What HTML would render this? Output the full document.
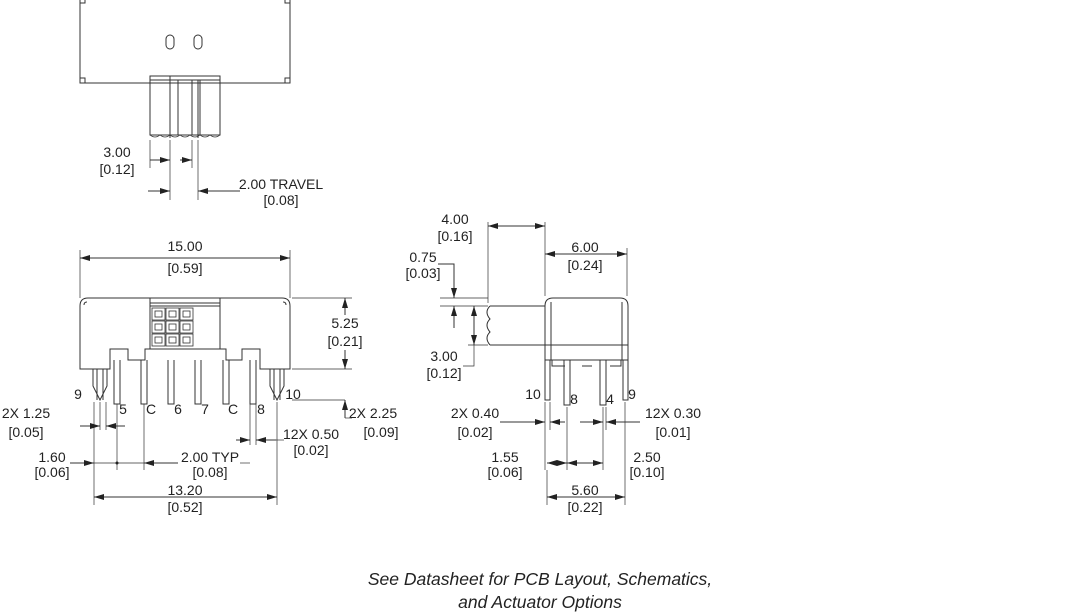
<!DOCTYPE html>
<html><head><meta charset="utf-8"><style>
html,body{margin:0;padding:0;background:#fff}
svg{display:block}
text{font-family:"Liberation Sans",sans-serif;font-size:14px;fill:#222}
.c{text-anchor:middle}
</style></head><body>
<svg width="1080" height="615" viewBox="0 0 1080 615">
<defs>
<marker id="a" viewBox="0 0 10 6" refX="10" refY="3" markerWidth="10" markerHeight="6" orient="auto-start-reverse" markerUnits="userSpaceOnUse"><path d="M0,0L10,3L0,6z" fill="#222"/></marker>
</defs>
<g stroke="#333" fill="none" stroke-width="1">
<rect x="80" y="-2" width="210" height="85"/>
<rect x="80" y="-2" width="5" height="5"/><rect x="285" y="-2" width="5" height="5"/>
<rect x="80" y="78" width="5" height="5"/><rect x="285" y="78" width="5" height="5"/>
<rect x="166" y="35" width="8" height="14" rx="4"/><rect x="194" y="35" width="8" height="14" rx="4"/>
<path d="M150,76H220V135H150Z"/>
<path d="M150,80H220M170,76V138M178,80V135M192,80V135M198,80V138M200,80V135"/>
<path d="M150,135q5,4 10,0q5,4 10,0q5,4 10,0q5,4 10,0q5,4 10,0q5,4 10,0q5,4 10,0" stroke-width="0.8"/>
<path d="M150,140V168M170,140V200M192,140V168M198,140V200" stroke-width="0.7"/>
<path d="M150,160H170" marker-end="url(#a)"/><path d="M180,160H192" marker-end="url(#a)"/>
<path d="M148,191H170" marker-end="url(#a)"/><path d="M240,191H198" marker-end="url(#a)"/>
<path d="M80,250V298M290,250V298" stroke-width="0.7"/>
<path d="M80,258H290" marker-start="url(#a)" marker-end="url(#a)"/>
<path d="M80,369V306Q80,298 88,298H282Q290,298 290,306V369H260V349H242V360H226V349H145V360H128V349H110V369Z"/>
<path d="M84,305q0,-3 3,-3M286,305q0,-3 -3,-3"/>
<path d="M150,298V349M220,298V349M150,303H220M150,306H220"/>
<g stroke-width="0.8">
<rect x="152" y="308" width="13" height="12"/><rect x="166" y="308" width="13" height="12"/><rect x="180" y="308" width="13" height="12"/>
<rect x="152" y="321" width="13" height="12"/><rect x="166" y="321" width="13" height="12"/><rect x="180" y="321" width="13" height="12"/>
<rect x="152" y="334" width="13" height="12"/><rect x="166" y="334" width="13" height="12"/><rect x="180" y="334" width="13" height="12"/>
<rect x="155" y="311" width="7" height="6"/><rect x="169" y="311" width="7" height="6"/><rect x="183" y="311" width="7" height="6"/>
<rect x="155" y="324" width="7" height="6"/><rect x="169" y="324" width="7" height="6"/><rect x="183" y="324" width="7" height="6"/>
<rect x="155" y="337" width="7" height="6"/><rect x="169" y="337" width="7" height="6"/><rect x="183" y="337" width="7" height="6"/>
</g>
<path d="M93,369V386L100,400L107,386V369M97,369V400M103,369V400"/>
<path d="M270,369V386L277,400L284,386V369M274,369V400M280,369V400"/>
<path d="M114,360V404H120V360M141,360V404H147V360M168,360V404H174V360M195,360V404H201V360M223,360V404H229V360M250,360V404H256V360"/>
<path d="M292,298H352M292,369H352M292,400H345" stroke-width="0.7"/>
<path d="M345,315V298" marker-end="url(#a)"/><path d="M345,350V369" marker-end="url(#a)"/>
<path d="M345,418V400" marker-end="url(#a)"/><path d="M345,418H352" stroke-width="0.7"/>
<path d="M94,402V505M100,402V430M106,402V430M117,404V470M144,404V470M250,404V445M256,404V445M277,402V505" stroke-width="0.7"/>
<path d="M80,426H100" marker-end="url(#a)"/><path d="M125,426H106" marker-end="url(#a)"/>
<path d="M70,463H94" marker-end="url(#a)"/><path d="M94,463H144" stroke-width="0.7"/>
<path d="M178,463H144" marker-end="url(#a)"/><path d="M236,440H250" marker-end="url(#a)"/>
<path d="M240,463H250" stroke-width="0.7"/>
<path d="M276,440H256" marker-end="url(#a)"/><path d="M276,440H284" stroke-width="0.7"/>
<path d="M94,497H277" marker-start="url(#a)" marker-end="url(#a)"/>
<path d="M545,397V306Q545,298 553,298H620Q628,298 628,306V397"/>
<path d="M551,302V360M622,302V360M545,345H628M545,360H628"/>
<path d="M552,360V366H565M582,366H592M610,366H621V360"/>
<path d="M490,306H545M490,345H545M490,306q-6,6 0,13q-6,6 0,13q-6,6 0,13"/>
<path d="M545,360V400H550V360M623,360V400H628V360M564,360V405H570V360M600,360V405H606V360"/>
<path d="M488,222V303M545,222V296M627,248V296" stroke-width="0.7"/>
<path d="M488,226H545" marker-start="url(#a)" marker-end="url(#a)"/>
<path d="M545,254H627" marker-start="url(#a)" marker-end="url(#a)"/>
<path d="M440,298H488M440,306H488M468,345H488" stroke-width="0.7"/>
<path d="M438,264H454V298" marker-end="url(#a)"/>
<path d="M454,328V306" marker-end="url(#a)"/>
<path d="M474,325V306" marker-end="url(#a)"/><path d="M474,325V345" marker-end="url(#a)"/>
<path d="M474,345V366H463" stroke-width="0.7"/>
<path d="M545,402V470M550,402V430M567,407V470M603,407V470M606,407V430M625,402V505M547,470V505" stroke-width="0.7"/>
<path d="M500,422H545" marker-end="url(#a)"/><path d="M565,422H550" marker-end="url(#a)"/>
<path d="M580,422H603" marker-end="url(#a)"/><path d="M640,422H606" marker-end="url(#a)"/>
<path d="M547,463H567" marker-start="url(#a)" marker-end="url(#a)"/>
<path d="M567,463H603" marker-start="url(#a)" marker-end="url(#a)"/>
<path d="M547,497H625" marker-start="url(#a)" marker-end="url(#a)"/>
</g>
<circle cx="117" cy="463" r="1.5" fill="#222"/>
<text x="117" y="157" class="c">3.00</text><text x="117" y="174" class="c">[0.12]</text>
<text x="281" y="189" class="c">2.00 TRAVEL</text><text x="281" y="205" class="c">[0.08]</text>
<text x="185" y="251" class="c">15.00</text><text x="185" y="273" class="c">[0.59]</text>
<text x="345" y="328" class="c">5.25</text><text x="345" y="346" class="c">[0.21]</text>
<text x="78" y="399" class="c">9</text><text x="123" y="414" class="c">5</text><text x="151" y="414" class="c">C</text>
<text x="178" y="414" class="c">6</text><text x="205" y="414" class="c">7</text><text x="233" y="414" class="c">C</text>
<text x="261" y="414" class="c">8</text><text x="293" y="399" class="c">10</text>
<text x="373" y="418" class="c">2X 2.25</text><text x="381" y="437" class="c">[0.09]</text>
<text x="26" y="418" class="c">2X 1.25</text><text x="26" y="437" class="c">[0.05]</text>
<text x="52" y="462" class="c">1.60</text><text x="52" y="477" class="c">[0.06]</text>
<text x="210" y="462" class="c">2.00 TYP</text><text x="210" y="477" class="c">[0.08]</text>
<text x="311" y="439" class="c">12X 0.50</text><text x="311" y="455" class="c">[0.02]</text>
<text x="185" y="495" class="c">13.20</text><text x="185" y="512" class="c">[0.52]</text>
<text x="455" y="224" class="c">4.00</text><text x="455" y="241" class="c">[0.16]</text>
<text x="585" y="252" class="c">6.00</text><text x="585" y="270" class="c">[0.24]</text>
<text x="423" y="262" class="c">0.75</text><text x="423" y="278" class="c">[0.03]</text>
<text x="444" y="361" class="c">3.00</text><text x="444" y="378" class="c">[0.12]</text>
<text x="533" y="399" class="c">10</text><text x="574" y="404" class="c">8</text>
<text x="610" y="404" class="c">4</text><text x="632" y="399" class="c">9</text>
<text x="475" y="418" class="c">2X 0.40</text><text x="475" y="437" class="c">[0.02]</text>
<text x="673" y="418" class="c">12X 0.30</text><text x="673" y="437" class="c">[0.01]</text>
<text x="505" y="462" class="c">1.55</text><text x="505" y="477" class="c">[0.06]</text>
<text x="647" y="462" class="c">2.50</text><text x="647" y="477" class="c">[0.10]</text>
<text x="585" y="495" class="c">5.60</text><text x="585" y="512" class="c">[0.22]</text>
<text x="540" y="585" class="c" style="font-style:italic;font-size:17.5px">See Datasheet for PCB Layout, Schematics,</text>
<text x="540" y="608" class="c" style="font-style:italic;font-size:17.5px">and Actuator Options</text>
</svg>
</body></html>
